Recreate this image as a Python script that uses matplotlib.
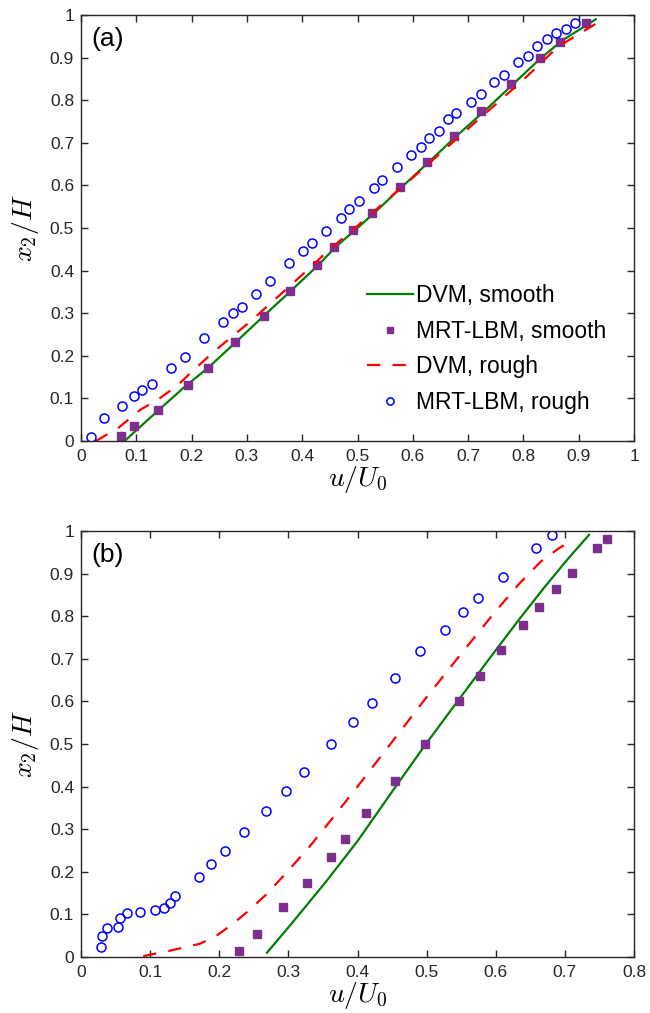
import matplotlib
matplotlib.use("Agg")
import matplotlib.pyplot as plt

plt.rcParams['font.family'] = ['Liberation Sans', 'DejaVu Sans']
plt.rcParams['mathtext.fontset'] = 'cm'

# ---- panel (a) data ----
a_dvm_smooth_u = [0.079, 0.10, 0.14, 0.19, 0.23, 0.28, 0.33, 0.38, 0.43, 0.46, 0.50, 0.53,
                  0.58, 0.63, 0.68, 0.73, 0.78, 0.83, 0.87, 0.931]
a_dvm_smooth_y = [0.0, 0.025, 0.072, 0.13, 0.172, 0.232, 0.293, 0.353, 0.414, 0.455, 0.50, 0.535,
                  0.596, 0.656, 0.717, 0.775, 0.836, 0.897, 0.94, 0.99]

a_lbm_smooth_u = [0.072, 0.095, 0.139, 0.193, 0.229, 0.278, 0.331, 0.378, 0.427, 0.458, 0.492,
                  0.526, 0.576, 0.625, 0.675, 0.723, 0.778, 0.830, 0.866, 0.913]
a_lbm_smooth_y = [0.012, 0.034, 0.073, 0.131, 0.172, 0.232, 0.293, 0.353, 0.414, 0.455, 0.495,
                  0.536, 0.596, 0.656, 0.717, 0.775, 0.838, 0.900, 0.937, 0.981]

a_dvm_rough_u = [0.027, 0.067, 0.107, 0.14, 0.175, 0.205, 0.238, 0.271, 0.304, 0.335, 0.40,
                 0.45, 0.50, 0.55, 0.60, 0.70, 0.80, 0.863, 0.933]
a_dvm_rough_y = [0.0, 0.030, 0.073, 0.098, 0.131, 0.168, 0.207, 0.243, 0.278, 0.314, 0.39,
                 0.45, 0.505, 0.562, 0.618, 0.733, 0.848, 0.926, 0.981]

a_lbm_rough_u = [0.019, 0.042, 0.074, 0.095, 0.111, 0.129, 0.162, 0.188, 0.222, 0.256, 0.274,
                 0.291, 0.316, 0.342, 0.376, 0.402, 0.418, 0.443, 0.470, 0.484, 0.502, 0.529,
                 0.544, 0.571, 0.596, 0.614, 0.630, 0.648, 0.664, 0.679, 0.705, 0.723, 0.747,
                 0.765, 0.791, 0.809, 0.825, 0.843, 0.859, 0.877, 0.893]
a_lbm_rough_y = [0.009, 0.053, 0.083, 0.106, 0.120, 0.134, 0.171, 0.198, 0.242, 0.279, 0.300,
                 0.315, 0.346, 0.376, 0.417, 0.447, 0.464, 0.494, 0.523, 0.545, 0.563, 0.593,
                 0.613, 0.644, 0.671, 0.691, 0.712, 0.728, 0.755, 0.769, 0.795, 0.815, 0.843,
                 0.859, 0.890, 0.904, 0.927, 0.944, 0.958, 0.967, 0.981]

# ---- panel (b) data ----
b_dvm_smooth_u = [0.269, 0.307, 0.355, 0.40, 0.45, 0.498, 0.546, 0.592, 0.635, 0.67, 0.703, 0.735]
b_dvm_smooth_y = [0.010, 0.083, 0.178, 0.272, 0.388, 0.498, 0.603, 0.703, 0.795, 0.867, 0.932, 0.991]

b_lbm_smooth_u = [0.228, 0.254, 0.292, 0.327, 0.361, 0.382, 0.412, 0.454, 0.498, 0.547, 0.577,
                  0.608, 0.639, 0.662, 0.687, 0.710, 0.747, 0.761]
b_lbm_smooth_y = [0.014, 0.054, 0.118, 0.174, 0.235, 0.276, 0.337, 0.414, 0.499, 0.600, 0.660,
                  0.721, 0.779, 0.822, 0.863, 0.901, 0.961, 0.981]

b_dvm_rough_u = [0.090, 0.129, 0.172, 0.196, 0.22, 0.245, 0.27, 0.30, 0.33, 0.36, 0.40, 0.45,
                 0.50, 0.55, 0.60, 0.635, 0.665, 0.69, 0.705]
b_dvm_rough_y = [0.002, 0.015, 0.031, 0.050, 0.078, 0.112, 0.150, 0.203, 0.258, 0.318, 0.400,
                 0.505, 0.610, 0.712, 0.812, 0.878, 0.928, 0.958, 0.973]

b_lbm_rough_u = [0.0285, 0.030, 0.037, 0.053, 0.056, 0.066, 0.086, 0.107, 0.120, 0.129, 0.136,
                 0.170, 0.188, 0.208, 0.236, 0.268, 0.297, 0.323, 0.361, 0.394, 0.421, 0.454,
                 0.491, 0.527, 0.552, 0.575, 0.610, 0.658, 0.682]
b_lbm_rough_y = [0.023, 0.050, 0.067, 0.071, 0.091, 0.104, 0.106, 0.110, 0.114, 0.126, 0.142,
                 0.188, 0.218, 0.249, 0.293, 0.343, 0.390, 0.434, 0.499, 0.552, 0.597, 0.654,
                 0.718, 0.768, 0.809, 0.843, 0.893, 0.961, 0.991]

green = '#008000'
red = '#ff0000'
purple = '#7e2f8e'
blue = '#0000ff'


def style_axes(ax, xmax, xticks):
    ax.set_xlim(0, xmax)
    ax.set_ylim(0, 1)
    ax.set_xticks(xticks)
    ax.set_yticks([i / 10 for i in range(11)])
    ax.set_xticklabels(['%g' % t for t in xticks])
    ax.set_yticklabels(['%g' % (i / 10) for i in range(11)])
    ax.tick_params(direction='in', top=True, right=True, length=5, width=1,
                   labelsize=12.5, colors='#262626')
    ax.tick_params(axis='x', pad=6)
    ax.tick_params(axis='y', pad=5)
    for s in ax.spines.values():
        s.set_color('#262626')
        s.set_linewidth(1)
    ax.set_xlabel(r'$u/U_0$', fontsize=20, labelpad=0)
    ax.set_ylabel(r'$x_2/H$', fontsize=20, labelpad=6)


fig = plt.figure(figsize=(6.5, 10.13), dpi=100)

# panel (a)
ax1 = fig.add_axes([0.1246, 0.5647, 0.8508, 0.4205])
ax1.plot(a_dvm_smooth_u, a_dvm_smooth_y, color=green, lw=1.6, label='DVM, smooth')
ax1.plot(a_lbm_smooth_u, a_lbm_smooth_y, 's', color=purple, ms=5.5, mec=purple, lw=0,
         label='MRT-LBM, smooth')
ax1.plot(a_dvm_rough_u, a_dvm_rough_y, color=red, lw=1.6, dashes=[6, 5.5], label='DVM, rough')
ax1.plot(a_lbm_rough_u, a_lbm_rough_y, 'o', mfc='none', mec=blue, mew=1.1, ms=6.5, lw=0,
         label='MRT-LBM, rough')
style_axes(ax1, 1, [i / 10 for i in range(11)])
ax1.text(0.018, 0.944, '(a)', transform=ax1.transAxes, fontsize=19, va='center')
ax1.legend(loc='upper left', bbox_to_anchor=(0.50, 0.39), frameon=False, fontsize=16.5,
           handlelength=2.0, handletextpad=0.15, labelspacing=0.55, markerscale=0.8,
           borderaxespad=0)

# panel (b)
ax2 = fig.add_axes([0.1246, 0.0553, 0.8508, 0.4205])
ax2.plot(b_dvm_smooth_u, b_dvm_smooth_y, color=green, lw=1.6)
ax2.plot(b_lbm_smooth_u, b_lbm_smooth_y, 's', color=purple, ms=5.5, mec=purple, lw=0)
ax2.plot(b_dvm_rough_u, b_dvm_rough_y, color=red, lw=1.6, dashes=[6, 5.5])
ax2.plot(b_lbm_rough_u, b_lbm_rough_y, 'o', mfc='none', mec=blue, mew=1.1, ms=6.5, lw=0)
style_axes(ax2, 0.8, [i / 10 for i in range(9)])
ax2.text(0.018, 0.944, '(b)', transform=ax2.transAxes, fontsize=19, va='center')

fig.savefig('out.png', dpi=100)
